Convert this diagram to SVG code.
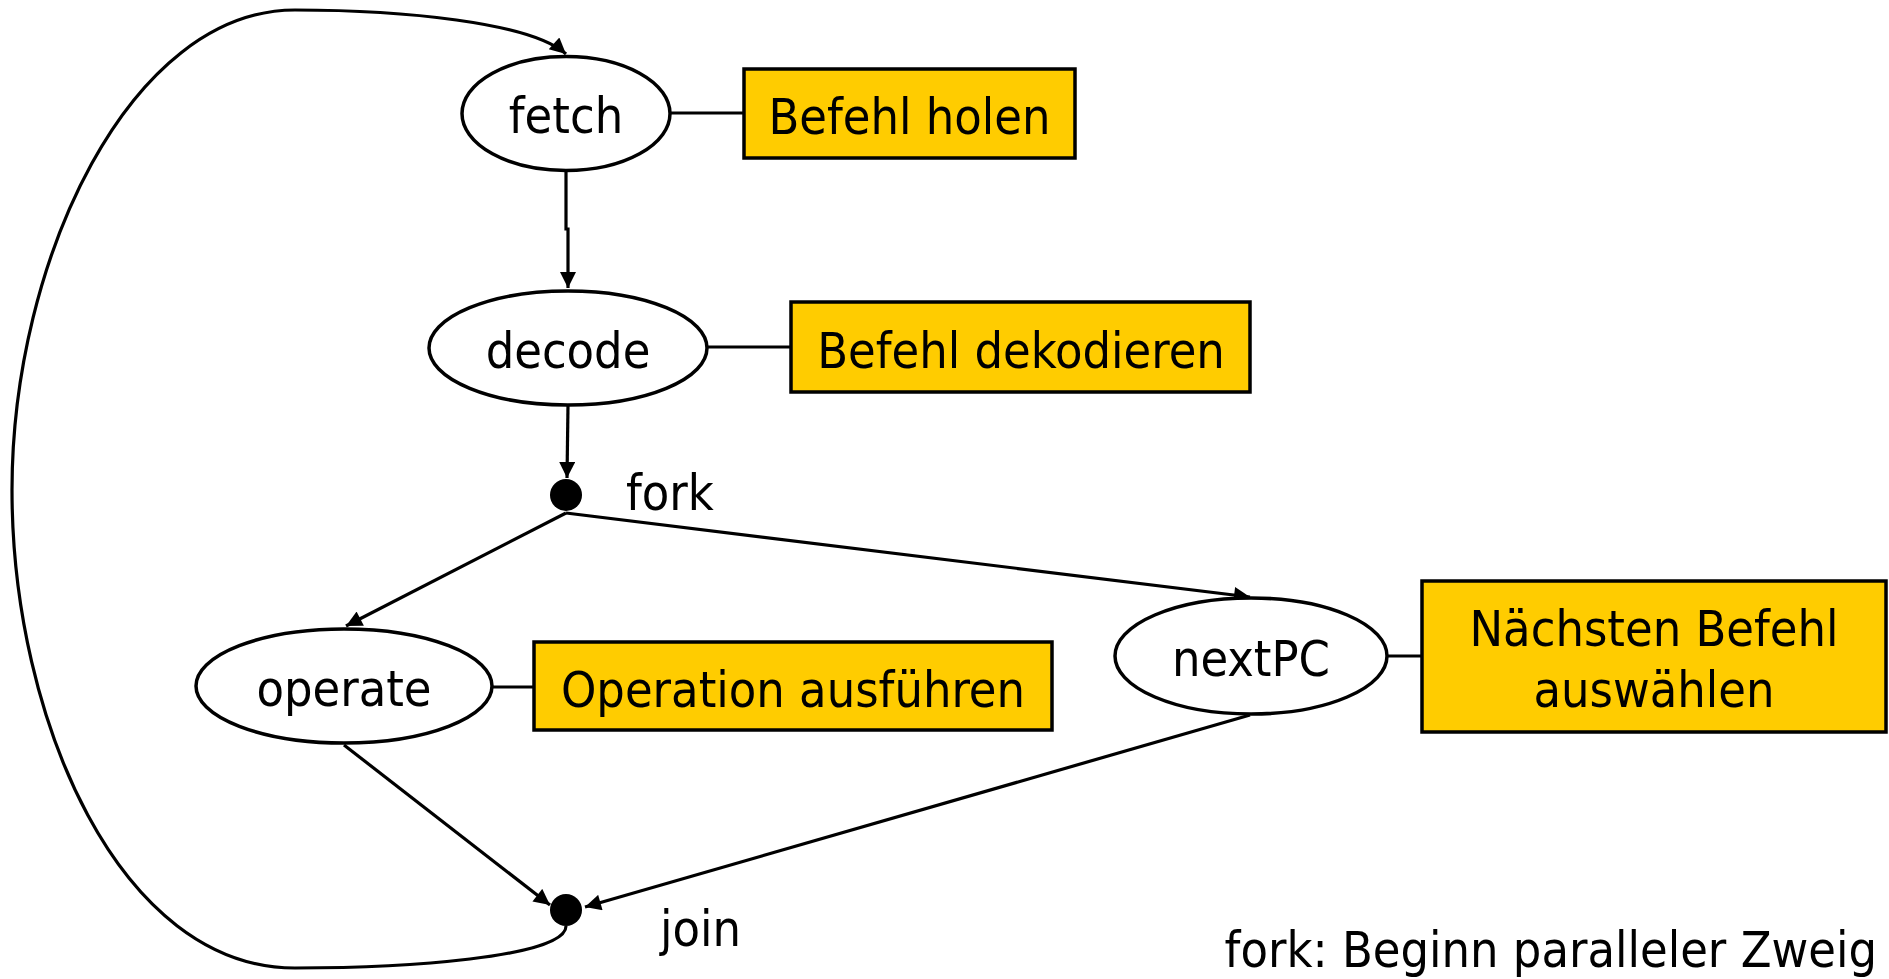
<svg xmlns="http://www.w3.org/2000/svg" width="1889" height="979" viewBox="0 0 1889 979">
<defs>
<style>
.n{fill:#fff;stroke:#000;stroke-width:3.5}
.b{fill:#FFCC00;stroke:#000;stroke-width:3.5}
.t{font-family:"DejaVu Sans Condensed","DejaVu Sans",sans-serif;font-stretch:condensed;font-size:50px;fill:#000}
.m{text-anchor:middle}
.c{fill:none;stroke:#000;stroke-width:3.2}
.a{marker-end:url(#ah)}
</style>
<marker id="ah" viewBox="0 0 10 10" refX="10" refY="5" markerWidth="5.5" markerHeight="5" orient="auto" markerUnits="strokeWidth">
<path d="M0,0 L10,5 L0,10 z" fill="#000"/>
</marker>
</defs>
<rect width="1889" height="979" fill="#fff"/>
<g id="connectors">
<path class="c a" d="M566 926 C566 958 400 968 295 968 C120 968 12 720 12 490 C12 260 130 10 295 10 C400 10 530 22 566 54"/>
<path class="c a" d="M566 171 L566 229 L568 229 L568 288"/>
<path class="c a" d="M568 405 L567 478"/>
<path class="c a" d="M566 513 L346 626"/>
<path class="c a" d="M566 513 L1250 597"/>
<path class="c a" d="M344 745 L550 905"/>
<path class="c a" d="M1250 715 L585 907"/>
<line class="c" x1="670" y1="113" x2="744" y2="113"/>
<line class="c" x1="707" y1="347" x2="791" y2="347"/>
<line class="c" x1="492" y1="687" x2="534" y2="687"/>
<line class="c" x1="1387" y1="656" x2="1422" y2="656"/>
</g>
<g id="fetch">
<ellipse class="n" cx="566" cy="113.5" rx="104" ry="57"/>
<text class="t m" x="566" y="133">fetch</text>
</g>
<g id="befehl-holen">
<rect class="b" x="744" y="69" width="331" height="89"/>
<text class="t m" x="909.5" y="134">Befehl holen</text>
</g>
<g id="decode">
<ellipse class="n" cx="568" cy="348" rx="139" ry="57"/>
<text class="t m" x="568" y="368">decode</text>
</g>
<g id="befehl-dekodieren">
<rect class="b" x="791" y="302" width="459" height="90"/>
<text class="t m" x="1021" y="368">Befehl dekodieren</text>
</g>
<g id="fork">
<circle cx="566" cy="495" r="16" fill="#000"/>
<text class="t" x="626" y="510">fork</text>
</g>
<g id="operate">
<ellipse class="n" cx="344" cy="686" rx="148" ry="57"/>
<text class="t m" x="344" y="706">operate</text>
</g>
<g id="operation-ausfuehren">
<rect class="b" x="534" y="642" width="518" height="88"/>
<text class="t m" x="793" y="707">Operation ausführen</text>
</g>
<g id="nextPC">
<ellipse class="n" cx="1251" cy="656" rx="136" ry="58"/>
<text class="t m" x="1251" y="676">nextPC</text>
</g>
<g id="naechsten-befehl">
<rect class="b" x="1422" y="581" width="464" height="151"/>
<text class="t m" x="1654" y="646">Nächsten Befehl</text>
<text class="t m" x="1654" y="707">auswählen</text>
</g>
<g id="join">
<circle cx="566" cy="910" r="16" fill="#000"/>
<text class="t" x="660" y="946">join</text>
</g>
<g id="legend">
<text class="t" x="1877" y="967" text-anchor="end">fork: Beginn paralleler Zweig</text>
</g>
</svg>
